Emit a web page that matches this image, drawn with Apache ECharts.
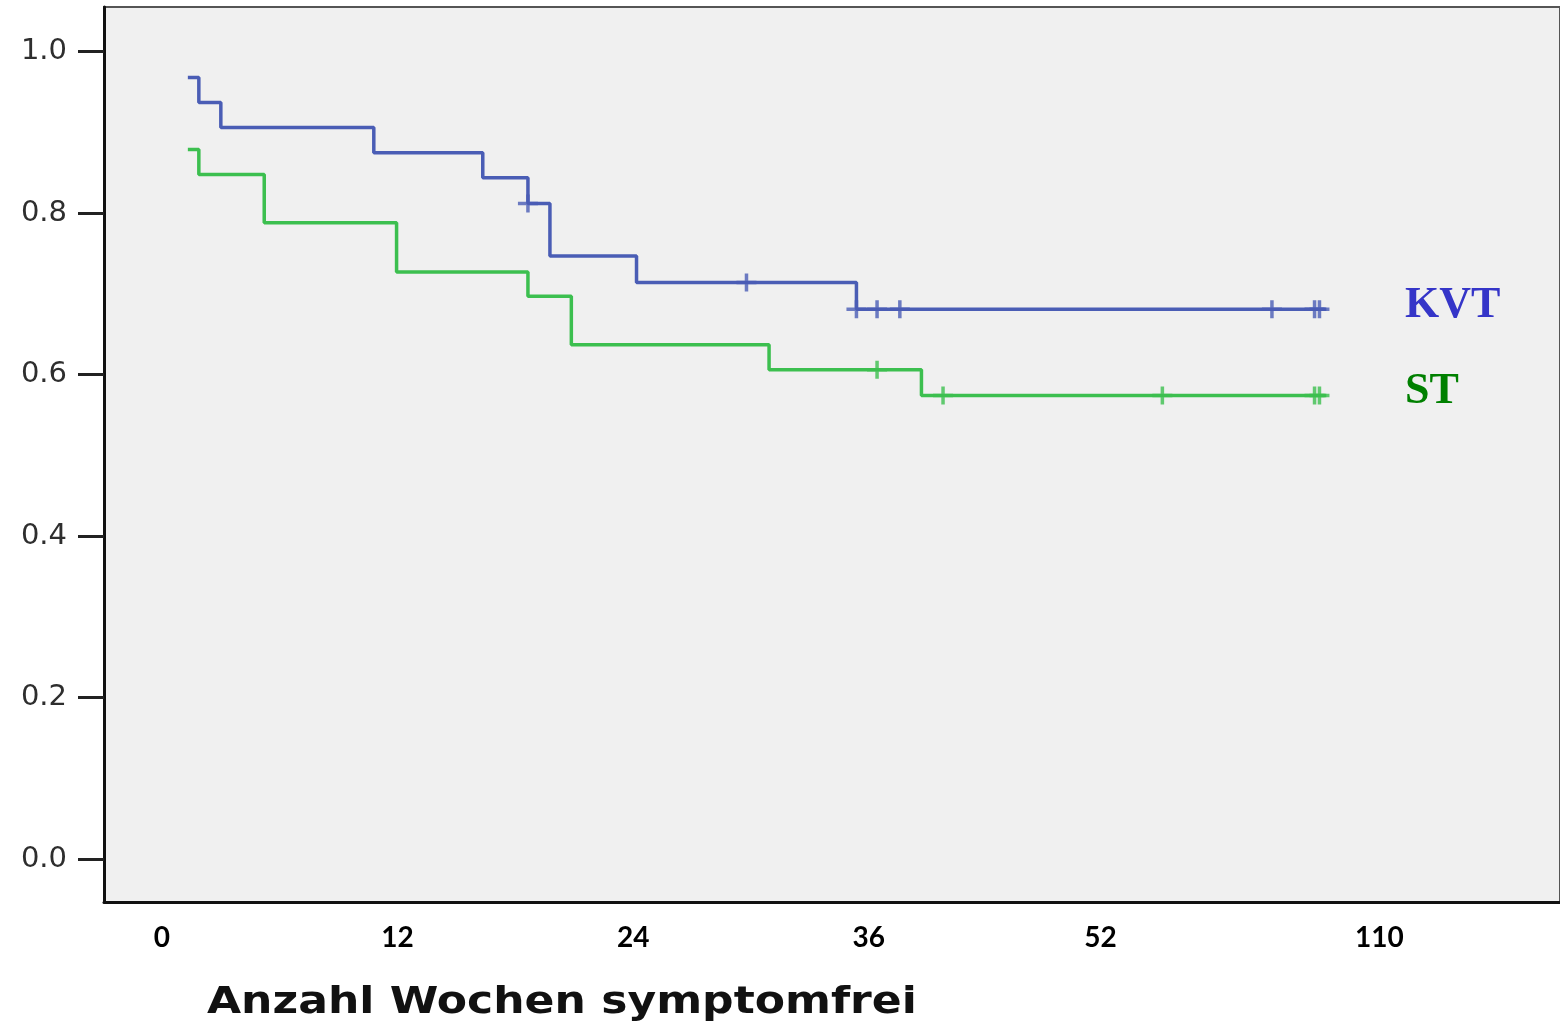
<!DOCTYPE html>
<html>
<head>
<meta charset="utf-8">
<script src="https://cdn.jsdelivr.net/npm/echarts@6/dist/echarts.min.js"></script>
<style>
html,body{margin:0;padding:0;background:#fff;}
#c{width:1560px;height:1026px;}
</style>
</head>
<body>
<div id="c"></div>
<script>
// x axis is in display units (1 unit = 1 week on the 0-36 stretch)
var xTickPos = [0, 12, 24, 36, 47.8, 62];
var xTickLabels = ['0', '12', '24', '36', '52', '110'];
var yTicks = [0, 0.2, 0.4, 0.6, 0.8, 1.0];

// KVT survival steps (time, survival after event)
var kvtTimes = [1.32, 1.88, 3.00, 10.79, 16.34, 18.64, 19.76, 24.17, 35.37, 59.3];
var kvtSurv  = [0.968, 0.937, 0.906, 0.875, 0.844, 0.812, 0.747, 0.714, 0.681, 0.681];
var kvtCensorTimes = [18.64, 29.77, 35.37, 36.42, 37.58, 56.53, 58.7, 58.95];
var kvtCensorSurv  = [0.812, 0.714, 0.681, 0.681, 0.681, 0.681, 0.681, 0.681];

// ST survival steps
var stTimes = [1.32, 1.88, 5.21, 11.95, 18.64, 20.85, 30.92, 38.68, 59.3];
var stSurv  = [0.879, 0.848, 0.788, 0.727, 0.697, 0.637, 0.606, 0.574, 0.574];
var stCensorTimes = [36.42, 39.78, 50.95, 58.7, 58.95];
var stCensorSurv  = [0.606, 0.574, 0.574, 0.574, 0.574];

function zip(a, b){ return a.map(function(v,i){ return [v, b[i]]; }); }

var blue = '#4a5db5', green = '#3cbf4f';
var plusPath = 'path://M8.25,0 h3.5 v7.25 h8.25 v3.5 h-8.25 v7.25 h-3.5 v-7.25 h-8.25 v-3.5 h8.25 z';

var chart = echarts.init(document.getElementById('c'), null, {renderer:'canvas'});
chart.setOption({
  animation: false,
  grid: {left:104, right:-3, top:7, bottom:124, show:true, backgroundColor:'#f0f0f0', borderColor:'#555', borderWidth:2},
  xAxis: {
    type:'value', min:-2.95, max:71.2,
    splitLine:{show:false},
    axisLine:{show:true, onZero:false, lineStyle:{color:'#111', width:3}},
    axisTick:{show:false},
    axisLabel:{
      customValues: xTickPos,
      margin: 22,
      fontFamily:'Lato', fontWeight:'bold', fontSize:28, color:'#000',
      formatter:function(v){
        var best=0, d=1e9;
        for (var i=0;i<xTickPos.length;i++){ var dd=Math.abs(xTickPos[i]-v); if(dd<d){d=dd;best=i;} }
        return xTickLabels[best];
      }
    }
  },
  yAxis: {
    type:'value', min:-0.0533, max:1.0554,
    splitLine:{show:false},
    axisLine:{show:true, onZero:false, lineStyle:{color:'#111', width:3}},
    axisTick:{show:true, customValues:yTicks, length:26, lineStyle:{color:'#222', width:3}},
    axisLabel:{
      customValues:yTicks, margin:37,
      fontFamily:'DejaVu Sans', fontSize:29, color:'#2e2e2e',
      formatter:function(v){ return v.toFixed(1); }
    }
  },
  series: [
    {type:'line', step:'end', data:zip(kvtTimes,kvtSurv), symbol:'none', lineStyle:{color:blue, width:3.5}, z:3},
    {type:'line', step:'end', data:zip(stTimes,stSurv), symbol:'none', lineStyle:{color:green, width:3.5}, z:3},
    {type:'scatter', data:zip(kvtCensorTimes,kvtCensorSurv), symbol:plusPath, symbolSize:[20,18], symbolKeepAspect:false, itemStyle:{color:blue}, z:4},
    {type:'scatter', data:zip(stCensorTimes,stCensorSurv), symbol:plusPath, symbolSize:[20,18], symbolKeepAspect:false, itemStyle:{color:green}, z:4}
  ],
  graphic: [
    {type:'text', left:1405, top:284, style:{text:'KVT', fill:'#3535c8', font:'bold 44px "Liberation Serif"'}},
    {type:'text', left:1405, top:370, style:{text:'ST', fill:'#008000', font:'bold 44px "Liberation Serif"'}},
    {type:'text', x:207, y:984, scaleX:1.16, style:{text:'Anzahl Wochen symptomfrei', fill:'#111', font:'bold 38px "DejaVu Sans"'}}
  ]
});
</script>
</body>
</html>
